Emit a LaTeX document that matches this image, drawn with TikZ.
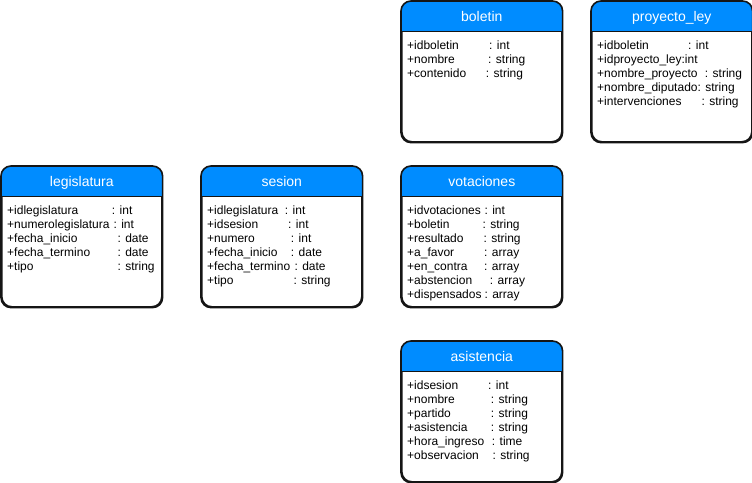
\documentclass[tikz,border=0pt]{standalone}
\usepackage{fontspec}
\setmainfont{Liberation Sans}
\definecolor{headblue}{HTML}{008CFF}
\definecolor{edge}{HTML}{151515}

% one class box: white body, blue rounded header
\tikzset{
  classbox/.style={draw=edge, line width=1.6pt, rounded corners=10pt, fill=white,
    minimum width=160pt, minimum height=140pt, anchor=north west, inner sep=0pt},
  classtitle/.style={font=\fontsize{14}{16}\selectfont, text=white, anchor=base, inner sep=0pt},
  field/.style={font=\fontsize{12}{14}\selectfont, text=black, anchor=base west, inner sep=0pt},
}

% header band of box #1
\newcommand\classhead[2]{%
  \fill[headblue] ([yshift=-30pt]#1.north west) [rounded corners=10pt] -- (#1.north west)
     -- (#1.north east) [sharp corners] -- ([yshift=-30pt]#1.north east) -- cycle;
  \draw[edge, line width=1.6pt, rounded corners=10pt] (#1.south west) rectangle (#1.north east);
  \draw[edge, line width=1pt] ([yshift=-30pt]#1.north west) -- ([yshift=-30pt]#1.north east);
  \node[classtitle] (#1-title) at ([yshift=-20.5pt]#1.north) {#2};}

% attribute row: box, row index, name, x of the type column, type
\newcommand\fieldrow[5]{%
  \node[field] (#1-n#2) at ([xshift=6pt,yshift={-48.5pt-#2*14pt}]#1.north west) {#3};
  \node[field] (#1-t#2) at ([xshift=#4pt,yshift={-48.5pt-#2*14pt}]#1.north west) {: #5};}

% attribute row written in one piece
\newcommand\fieldline[3]{%
  \node[field] (#1-n#2) at ([xshift=6pt,yshift={-48.5pt-#2*14pt}]#1.north west) {#3};}

\begin{document}
\begin{tikzpicture}[x=1pt,y=-1pt]
\fill[white] (0,0) rectangle (752,482);
\useasboundingbox (0,0) rectangle (752,482);

\node[classbox] (legislatura) at (1,166) {};
\node[classbox] (sesion) at (201,166) {};
\node[classbox] (boletin) at (401,1) {};
\node[classbox] (proyecto) at (591,1) {};
\node[classbox] (votaciones) at (401,166) {};
\node[classbox] (asistencia) at (401,341) {};

\classhead{legislatura}{legislatura}
\classhead{sesion}{sesion}
\classhead{boletin}{boletin}
\classhead{proyecto}{proyecto\_ley}
\classhead{votaciones}{votaciones}
\classhead{asistencia}{asistencia}

\fieldrow{legislatura}{0}{+idlegislatura}{110.7}{int}
\fieldrow{legislatura}{1}{+numerolegislatura}{112.3}{int}
\fieldrow{legislatura}{2}{+fecha\_inicio}{116.3}{date}
\fieldrow{legislatura}{3}{+fecha\_termino}{116.3}{date}
\fieldrow{legislatura}{4}{+tipo}{116.3}{string}

\fieldrow{sesion}{0}{+idlegislatura}{83.7}{int}
\fieldrow{sesion}{1}{+idsesion}{87}{int}
\fieldrow{sesion}{2}{+numero}{89.7}{int}
\fieldrow{sesion}{3}{+fecha\_inicio}{89.7}{date}
\fieldrow{sesion}{4}{+fecha\_termino}{93.3}{date}
\fieldrow{sesion}{5}{+tipo}{92.3}{string}

\fieldrow{boletin}{0}{+idboletin}{88}{int}
\fieldrow{boletin}{1}{+nombre}{87}{string}
\fieldrow{boletin}{2}{+contenido}{84.7}{string}

\fieldrow{proyecto}{0}{+idboletin}{97}{int}
\fieldline{proyecto}{1}{+idproyecto\_ley:int}
\fieldrow{proyecto}{2}{+nombre\_proyecto}{113.7}{string}
\fieldline{proyecto}{3}{+nombre\_diputado: string}
\fieldrow{proyecto}{4}{+intervenciones}{110.3}{string}

\fieldrow{votaciones}{0}{+idvotaciones}{83.3}{int}
\fieldrow{votaciones}{1}{+boletin}{81.3}{string}
\fieldrow{votaciones}{2}{+resultado}{82.3}{string}
\fieldrow{votaciones}{3}{+a\_favor}{83}{array}
\fieldrow{votaciones}{4}{+en\_contra}{83}{array}
\fieldrow{votaciones}{5}{+abstencion}{88.7}{array}
\fieldrow{votaciones}{6}{+dispensados}{83.3}{array}

\fieldrow{asistencia}{0}{+idsesion}{87}{int}
\fieldrow{asistencia}{1}{+nombre}{89.7}{string}
\fieldrow{asistencia}{2}{+partido}{89.7}{string}
\fieldrow{asistencia}{3}{+asistencia}{89.7}{string}
\fieldrow{asistencia}{4}{+hora\_ingreso}{90.7}{time}
\fieldrow{asistencia}{5}{+observacion}{91.3}{string}
\end{tikzpicture}
\end{document}
